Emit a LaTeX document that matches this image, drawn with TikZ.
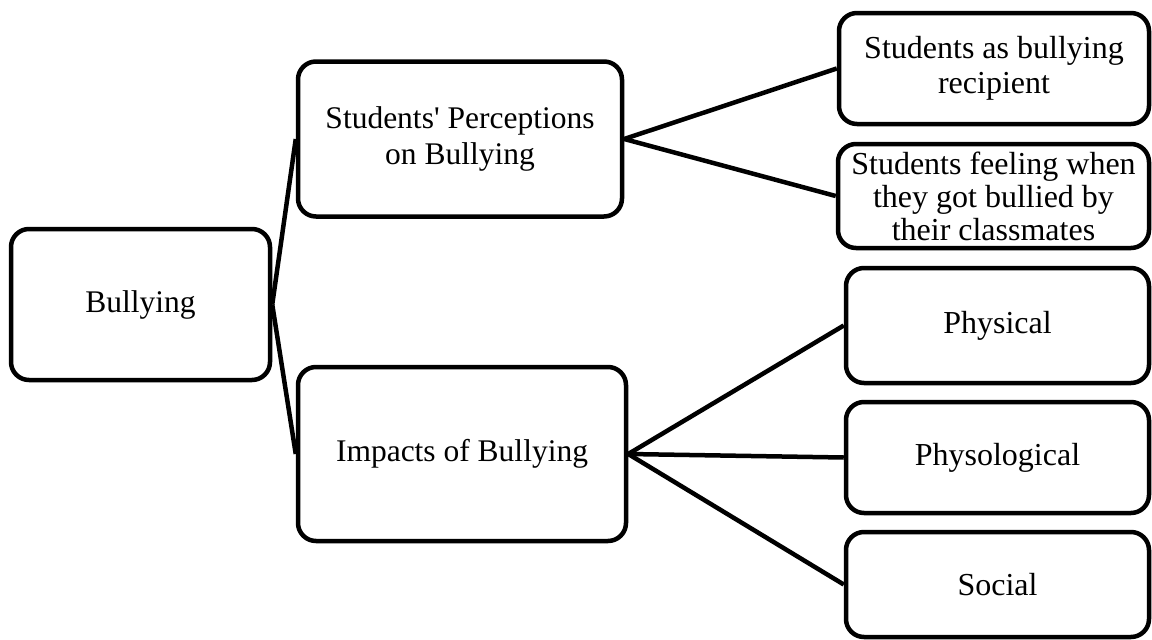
\documentclass[tikz,border=0pt]{standalone}
\usepackage{fontspec}
\setmainfont{Liberation Serif}
\begin{document}
\begin{tikzpicture}[x=1pt,y=1pt,
  box/.style={draw=black, line width=4.5pt, rounded corners=18pt, fill=white,
    rectangle, inner sep=0pt, align=center,
    font=\fontsize{31.5}{35}\selectfont},
  link/.style={draw=black, line width=4.5pt}]
\useasboundingbox (0,0) rectangle (1152,-640);
\node[box, minimum width=259pt, minimum height=151pt] (bully) at (140.5,-304.5) {Bullying};
\node[box, minimum width=324pt, minimum height=155pt, font=\fontsize{31.5}{36}\selectfont] (perc) at (460,-139) {Students\textquotesingle{} Perceptions\\on Bullying};
\node[box, minimum width=328pt, minimum height=174pt] (imp) at (462,-454) {Impacts of Bullying};
\node[box, minimum width=310pt, minimum height=111pt, font=\fontsize{32}{35}\selectfont] (r1) at (994,-68.5) {Students as bullying\\recipient};
\node[box, minimum width=311pt, minimum height=104pt, font=\fontsize{32}{33}\selectfont] (r2) at (993.5,-196) {Students feeling when\\they got bullied by\\their classmates};
\node[box, minimum width=303pt, minimum height=115pt, font=\fontsize{32}{35}\selectfont] (r3) at (997.5,-325.5) {Physical};
\node[box, minimum width=303pt, minimum height=111pt, font=\fontsize{32}{35}\selectfont] (r4) at (997.5,-457.5) {Physological};
\node[box, minimum width=303pt, minimum height=105pt, font=\fontsize{32}{35}\selectfont] (r5) at (997.5,-584.5) {Social};
\draw[link] (bully.east) -- (perc.west);
\draw[link] (bully.east) -- (imp.west);
\draw[link] (perc.east) -- (r1.west);
\draw[link] (perc.east) -- (r2.west);
\draw[link] (imp.east) -- (r3.west);
\draw[link] (imp.east) -- (r4.west);
\draw[link] (imp.east) -- (r5.west);
\end{tikzpicture}
\end{document}
